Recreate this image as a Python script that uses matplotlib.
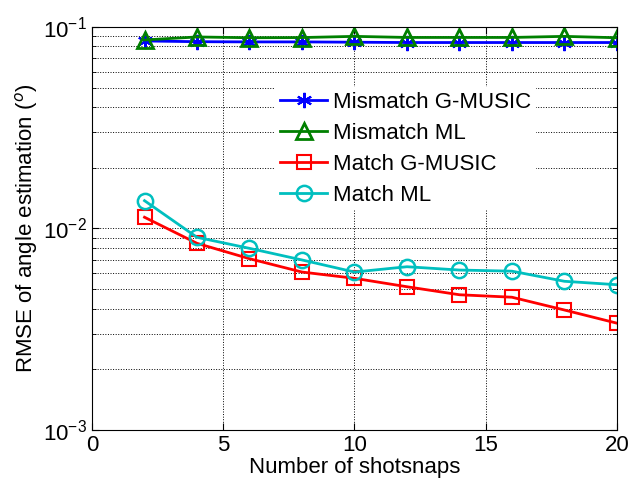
import numpy as np
import matplotlib.pyplot as plt
from matplotlib.ticker import LogLocator, NullFormatter

plt.rcParams['font.family'] = ['Liberation Sans', 'DejaVu Sans']
plt.rcParams['mathtext.fontset'] = 'custom'
plt.rcParams['mathtext.rm'] = 'Liberation Sans'

snapshots = [2, 4, 6, 8, 10, 12, 14, 16, 18, 20]
mismatch_gmusic = [0.0852, 0.0845, 0.0843, 0.0843, 0.0840, 0.0837, 0.0837, 0.0837, 0.0837, 0.0837]
mismatch_ml = [0.0862, 0.0892, 0.0884, 0.0886, 0.0898, 0.0887, 0.0887, 0.0887, 0.0898, 0.0884]
match_gmusic = [0.01137, 0.00844, 0.00708, 0.00608, 0.00566, 0.00514, 0.00469, 0.00456, 0.00394, 0.00339]
match_ml = [0.01374, 0.00904, 0.00797, 0.00698, 0.00608, 0.00646, 0.00622, 0.00614, 0.00547, 0.00526]


def main():
    fig = plt.figure(figsize=(6.36, 4.9), dpi=100)
    ax = fig.add_axes([0.1447, 0.1224, 0.8253, 0.8226])

    ax.semilogy(snapshots, mismatch_gmusic, '-', marker=(6, 2, 0), color='#0000ff',
                lw=2, ms=11, mew=1.5, label='Mismatch G-MUSIC')
    ax.semilogy(snapshots, mismatch_ml, '-^', color='#008000', lw=2,
                ms=11, mew=2, mfc='none', label='Mismatch ML')
    ax.semilogy(snapshots, match_gmusic, '-s', color='#ff0000', lw=2,
                ms=10, mew=1.5, mfc='none', label='Match G-MUSIC')
    ax.semilogy(snapshots, match_ml, '-o', color='#00bfbf', lw=2,
                ms=11, mew=1.8, mfc='none', label='Match ML')

    ax.set_xlim(0, 20)
    ax.set_ylim(1e-3, 1e-1)
    ax.set_xticks([0, 5, 10, 15, 20])
    ax.yaxis.set_major_locator(LogLocator(base=10, numticks=5))
    ax.yaxis.set_minor_locator(LogLocator(base=10, subs=np.arange(2, 10), numticks=20))
    ax.yaxis.set_minor_formatter(NullFormatter())

    ax.grid(True, which='major', axis='both', color='k', ls=':', lw=0.7)
    ax.grid(True, which='minor', axis='y', color='k', ls=':', lw=0.7)
    ax.tick_params(which='both', direction='in', top=True, right=True,
                   labelsize=16)
    ax.tick_params(which='major', length=5)
    ax.tick_params(which='minor', length=3)
    for s in ax.spines.values():
        s.set_linewidth(0.8)

    ax.set_xlabel('Number of shotsnaps', fontsize=16, labelpad=1)
    ax.set_ylabel('RMSE of angle estimation ($^o$)', fontsize=16, labelpad=2)

    leg = ax.legend(loc='upper left', bbox_to_anchor=(0.349, 0.85),
                    fontsize=16, frameon=True, fancybox=False,
                    edgecolor='white', framealpha=1, handlelength=2.15,
                    handletextpad=0.25, labelspacing=0.45, borderpad=0.2,
                    borderaxespad=0)
    leg.get_frame().set_linewidth(0)

    fig.savefig('out.png', dpi=100)
    plt.close(fig)


if __name__ == '__main__':
    main()
